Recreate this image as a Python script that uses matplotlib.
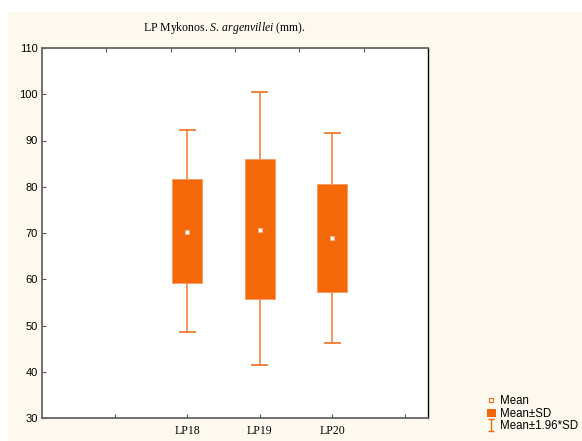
import matplotlib
matplotlib.use("Agg")
import matplotlib.pyplot as plt
from matplotlib.patches import Rectangle
from matplotlib.lines import Line2D
from matplotlib.path import Path

categories = ["LP18", "LP19", "LP20"]
means = [70.3, 70.7, 69.0]
sd_low = [59.2, 55.8, 57.2]
sd_high = [81.7, 86.0, 80.6]
ci_low = [48.5, 41.4, 46.3]
ci_high = [92.3, 100.4, 91.6]
yticks = [30, 40, 50, 60, 70, 80, 90, 100, 110]

plt.rcParams['mathtext.fontset'] = 'custom'
plt.rcParams['mathtext.rm'] = 'Liberation Serif'
plt.rcParams['mathtext.it'] = 'Liberation Serif:italic'

W, H = 582, 441
fig = plt.figure(figsize=(W / 100, H / 100), dpi=100)
fig.patch.set_facecolor("white")
bg = Rectangle((8 / W, 0), 1 - 8 / W, 1 - 12 / H, transform=fig.transFigure,
               facecolor="#FDF9EE", edgecolor="none", zorder=-10)
fig.patches.append(bg)

ax = fig.add_axes([42 / W, 23 / H, (428 - 42) / W, (418 - 48) / H])
ax.set_zorder(1)
ax.set_facecolor("white")
orange = "#F4680A"
line_c = "#F27A2E"
pos = [1, 2, 3]
bw = 30 / 72.5
cw = 15 / 72.5
for p, m, sl, sh, cl, ch in zip(pos, means, sd_low, sd_high, ci_low, ci_high):
    ax.plot([p, p], [cl, sl], color=line_c, lw=1.1, zorder=2)
    ax.plot([p, p], [sh, ch], color=line_c, lw=1.1, zorder=2)
    ax.plot([p - cw / 2, p + cw / 2], [cl, cl], color=line_c, lw=1.3, zorder=2)
    ax.plot([p - cw / 2, p + cw / 2], [ch, ch], color=line_c, lw=1.3, zorder=2)
    ax.add_patch(Rectangle((p - bw / 2, sl), bw, sh - sl, facecolor=orange,
                           edgecolor="#F69A60", lw=0.6, zorder=3))
    ax.plot([p], [m], marker="s", ms=3.5, mfc="white", mec="#F7B48A", mew=0.8, zorder=4)

ax.set_xlim(-1.0, 4.324)
ax.set_ylim(30, 110)
ax.set_yticks(yticks)
ax.set_xticks([0, 1, 2, 3, 4])
ax.set_xticklabels(["", "LP18", "LP19", "LP20", ""], fontfamily="Liberation Serif", fontsize=8.5)
for lab in ax.get_yticklabels():
    lab.set_fontfamily("Liberation Sans")
    lab.set_fontsize(8)
ax.tick_params(axis="both", direction="in", length=3, width=0.8, color="#555555", pad=3)
ax.tick_params(axis="x", pad=5)
for s in ["left", "bottom", "top"]:
    ax.spines[s].set_color("#666666")
    ax.spines[s].set_linewidth(1.3)
ax.spines["right"].set_color("black")
ax.spines["right"].set_linewidth(1.0)

ax2 = ax.twiny()
ax2.set_xlim(0, 6)
ax2.set_xticks([1, 2, 3, 4, 5])
ax2.set_xticklabels([])
ax2.tick_params(axis="x", direction="in", length=3, width=0.8, color="#555555")
for s in ax2.spines.values():
    s.set_visible(False)

fig.text(224 / W, 1 - 28 / H, r"LP Mykonos. $\mathit{S.}\,\mathit{argenvillei}$ (mm).",
         ha="center", va="center", fontfamily="Liberation Serif", fontsize=8.5)

ibar = Path([(-0.5, 1), (0.5, 1), (0, 1), (0, -1), (-0.5, -1), (0.5, -1)],
            [Path.MOVETO, Path.LINETO, Path.MOVETO, Path.LINETO, Path.MOVETO, Path.LINETO])
handles = [
    Line2D([], [], linestyle="none", marker="s", ms=3.5, mfc="white", mec=orange, mew=0.8),
    Rectangle((0, 0), 1, 1, facecolor=orange, edgecolor="none"),
    Line2D([], [], linestyle="none", marker=ibar, ms=9, mfc="none", mec=orange, mew=1.0),
]
leg = fig.legend(handles, ["Mean", "Mean±SD", "Mean±1.96*SD"], loc="lower left",
                 bbox_to_anchor=(482 / W, 4 / H), frameon=False, handlelength=0.8,
                 handletextpad=0.4, labelspacing=0.05, borderaxespad=0,
                 prop={"family": "Liberation Sans", "size": 8.3})

fig.savefig("out.png", dpi=100, facecolor=fig.get_facecolor())
